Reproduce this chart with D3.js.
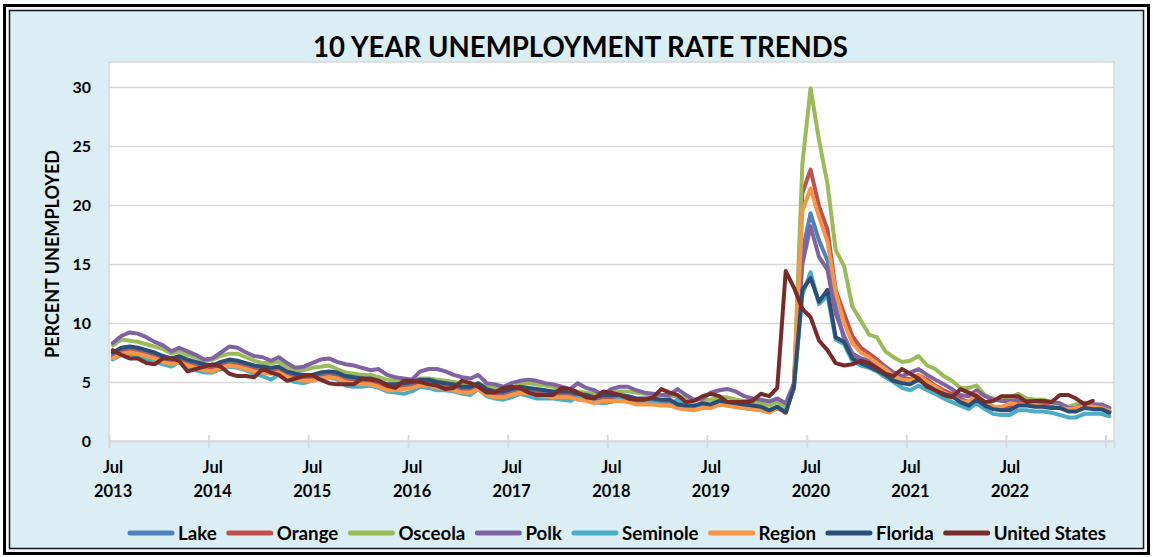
<!DOCTYPE html>
<html><head><meta charset="utf-8">
<script src="https://cdn.jsdelivr.net/npm/d3@7"></script>
<style>
body{margin:0;background:#fff}
svg{display:block}
text{font-family:Lato,"Open Sans",sans-serif;font-weight:700;fill:#000}
</style>
</head><body>
<svg id="c" width="1153" height="557"></svg>
<script>
// ---------- DATA ----------
const title = "10 YEAR UNEMPLOYMENT RATE TRENDS";
const yTitle = "PERCENT UNEMPLOYED";
const firstMonth = [2013, 6];          // July 2013 (month index 6)
const monthCount = 121;                // Jul 2013 .. Jul 2023
const yTicks = [0, 5, 10, 15, 20, 25, 30];
const tickYears = [2013,2014,2015,2016,2017,2018,2019,2020,2021,2022,2023];
const labelYears = [2013,2014,2015,2016,2017,2018,2019,2020,2021,2022];
const tickMonthLabel = "Jul";
const seriesNames = ["Lake","Orange","Osceola","Polk","Seminole","Region","Florida","United States"];
const seriesColors = ["#4F81BD","#C0504D","#9BBB59","#8064A2","#4BACC6","#F79646","#2C4D75","#772C2A"];

const lake = [7.3,7.7,7.8,7.7,7.5,7.3,7.0,6.8,7.0,6.7,6.5,6.3,
 6.2,6.5,6.7,6.6,6.4,6.2,6.1,6.0,6.1,5.7,5.5,5.4,
 5.4,5.6,5.7,5.6,5.3,5.2,5.1,5.1,4.9,4.6,4.6,4.7,
 4.8,5.0,5.0,4.8,4.7,4.6,4.4,4.4,4.7,4.2,4.0,4.0,
 4.2,4.4,4.3,4.2,4.1,4.0,4.0,4.0,3.8,3.7,3.5,3.7,
 3.7,3.7,3.6,3.4,3.4,3.4,3.3,3.3,3.0,2.9,2.9,3.1,
 3.0,3.3,3.2,3.1,3.0,2.9,2.8,2.6,2.9,2.5,4.6,16.0,
 19.3,17.0,15.3,11.4,8.6,7.4,7.0,6.7,6.3,5.9,5.4,5.1,
 5.0,5.4,4.9,4.5,4.2,3.9,3.5,3.2,3.7,3.2,2.9,2.7,
 2.7,3.1,3.1,3.0,3.0,2.9,2.9,2.6,2.6,2.9,2.8,2.8,
 2.5];
const orange = [7.1,7.5,7.6,7.5,7.3,7.1,6.8,6.6,6.8,6.5,6.3,6.1,
 6.0,6.3,6.5,6.4,6.2,6.0,5.9,5.8,5.9,5.5,5.3,5.2,
 5.2,5.4,5.5,5.4,5.1,5.0,4.9,4.9,4.7,4.4,4.4,4.5,
 4.6,4.8,4.8,4.6,4.5,4.4,4.2,4.2,4.5,4.0,3.8,3.8,
 4.0,4.2,4.1,4.0,3.9,3.8,3.8,3.8,3.6,3.5,3.3,3.5,
 3.5,3.5,3.4,3.2,3.2,3.2,3.1,3.1,2.8,2.7,2.7,2.9,
 2.8,3.1,3.0,2.9,2.8,2.7,2.7,2.5,2.8,2.4,4.6,21.0,
 23.0,19.9,17.9,12.8,10.8,8.9,7.9,7.4,6.9,6.3,5.8,5.4,
 5.2,5.6,5.2,4.7,4.3,4.0,3.6,3.3,3.8,3.3,2.9,2.8,
 2.8,3.2,3.2,3.0,3.0,2.9,2.8,2.6,2.6,2.9,2.8,2.8,
 2.5];
const osceola = [8.1,8.6,8.5,8.4,8.2,8.0,7.8,7.4,7.6,7.3,7.1,6.8,
 6.9,7.2,7.4,7.4,7.1,6.8,6.6,6.6,6.7,6.3,6.0,6.0,
 6.2,6.3,6.4,6.1,5.8,5.7,5.6,5.6,5.4,5.2,5.1,5.0,
 5.1,5.3,5.3,5.2,5.1,5.0,4.9,4.9,4.8,4.7,4.5,4.3,
 4.5,4.8,4.9,4.8,4.7,4.6,4.4,4.3,4.2,4.1,4.0,4.0,
 4.1,4.2,4.2,4.1,4.0,3.9,3.9,3.8,3.8,3.7,3.5,3.5,
 3.5,3.7,3.7,3.5,3.4,3.3,3.2,3.0,3.3,2.9,4.8,23.5,
 29.9,25.5,21.8,16.2,14.8,11.4,10.2,9.0,8.8,7.6,7.1,6.7,
 6.8,7.2,6.4,6.1,5.5,5.1,4.5,4.5,4.7,3.9,3.6,3.4,
 3.7,4.0,3.6,3.5,3.5,3.3,3.0,2.9,3.1,3.2,3.1,3.0,
 2.8];
const polk = [8.3,8.9,9.2,9.1,8.8,8.4,8.1,7.6,7.9,7.6,7.3,6.9,
 7.0,7.5,8.0,7.9,7.5,7.2,7.1,6.8,7.1,6.6,6.2,6.3,
 6.6,6.9,7.0,6.7,6.5,6.4,6.2,6.0,6.1,5.6,5.4,5.3,
 5.2,5.9,6.1,6.1,5.9,5.6,5.4,5.3,5.6,4.9,4.8,4.6,
 4.9,5.1,5.2,5.1,4.9,4.8,4.6,4.4,4.9,4.5,4.3,3.9,
 4.4,4.6,4.6,4.3,4.1,4.0,3.9,3.9,4.4,3.9,3.5,3.6,
 4.1,4.3,4.4,4.2,3.8,3.6,3.5,3.35,3.6,3.2,4.9,15.0,
 18.2,15.6,14.5,10.8,8.9,7.4,7.0,6.8,6.6,6.3,5.8,5.5,
 5.8,6.1,5.6,5.2,4.8,4.4,3.9,3.8,4.3,3.8,3.5,3.4,
 3.4,3.5,3.4,3.4,3.3,3.3,3.2,2.8,2.8,3.2,3.1,3.1,
 2.8];
const seminole = [6.9,7.3,7.4,7.1,6.9,6.7,6.5,6.3,6.7,6.3,6.0,5.8,
 5.8,6.1,6.3,6.2,6.0,5.7,5.5,5.2,5.6,5.2,5.0,4.9,
 5.1,5.3,5.4,5.2,4.7,4.6,4.6,4.7,4.5,4.2,4.1,4.0,
 4.2,4.6,4.5,4.3,4.3,4.2,4.0,3.9,4.4,3.8,3.6,3.5,
 3.7,4.0,3.8,3.6,3.6,3.6,3.5,3.4,3.7,3.5,3.3,3.2,
 3.3,3.6,3.5,3.5,3.3,3.2,3.1,3.0,3.5,2.9,2.8,2.9,
 2.9,3.2,3.1,2.9,2.8,2.7,2.7,2.5,2.9,2.5,4.4,12.4,
 14.3,11.6,12.3,8.6,8.2,6.8,6.4,6.2,5.9,5.4,5.0,4.5,
 4.3,4.7,4.3,4.0,3.6,3.3,3.0,2.7,3.2,2.7,2.3,2.2,
 2.2,2.6,2.6,2.5,2.5,2.4,2.2,2.0,2.0,2.3,2.3,2.3,
 2.1];
const region = [7.0,7.4,7.5,7.4,7.2,7.0,6.7,6.5,6.7,6.4,6.2,6.0,
 5.9,6.2,6.4,6.3,6.1,5.9,5.8,5.7,5.8,5.4,5.2,5.1,
 5.1,5.3,5.4,5.3,5.0,4.9,4.8,4.8,4.6,4.3,4.3,4.4,
 4.5,4.7,4.7,4.5,4.4,4.3,4.1,4.1,4.4,3.9,3.7,3.7,
 3.9,4.1,4.0,3.9,3.8,3.7,3.7,3.7,3.5,3.4,3.2,3.4,
 3.4,3.4,3.3,3.1,3.1,3.1,3.0,3.0,2.8,2.7,2.6,2.8,
 2.8,3.1,3.0,2.9,2.8,2.7,2.6,2.4,2.8,2.4,4.6,19.5,
 21.4,19.0,16.9,12.6,10.0,8.3,7.5,7.1,6.6,6.1,5.5,5.2,
 5.1,5.6,5.0,4.6,4.1,3.8,3.4,3.3,4.0,3.2,2.9,2.9,
 3.2,3.1,3.1,3.0,2.9,2.8,2.8,2.7,2.8,3.0,2.9,2.8,
 2.55];
const florida = [7.5,7.9,8.0,7.9,7.7,7.5,7.2,7.0,7.2,6.9,6.7,6.5,
 6.4,6.7,6.9,6.8,6.6,6.4,6.3,6.2,6.3,5.9,5.7,5.6,
 5.6,5.8,5.9,5.8,5.5,5.4,5.3,5.3,5.1,4.8,4.8,4.9,
 5.0,5.2,5.2,5.0,4.9,4.8,4.6,4.6,4.9,4.4,4.2,4.2,
 4.4,4.6,4.5,4.4,4.3,4.2,4.2,4.2,4.0,3.9,3.7,3.9,
 3.9,3.9,3.8,3.6,3.6,3.6,3.5,3.5,3.1,3.0,3.0,3.2,
 3.1,3.4,3.3,3.2,3.1,3.0,2.9,2.6,2.9,2.4,4.6,12.8,
 13.8,11.8,12.8,8.8,8.4,7.0,6.6,6.3,6.0,5.6,5.1,4.9,
 4.8,5.2,4.7,4.3,4.0,3.8,3.3,3.0,3.5,3.0,2.7,2.6,
 2.6,3.0,3.0,2.9,2.9,2.8,2.8,2.5,2.5,2.8,2.7,2.7,
 2.4];
const unitedStates = [7.7,7.3,7.0,7.0,6.6,6.5,
 7.0,7.0,6.8,5.9,6.1,6.3,6.5,6.3,5.7,5.5,5.5,5.4,
 6.1,5.8,5.6,5.1,5.3,5.5,5.6,5.2,4.9,4.8,4.8,4.8,
 5.3,5.2,5.1,4.7,4.5,5.1,5.1,5.0,4.8,4.7,4.4,4.5,
 5.1,4.9,4.6,4.1,4.1,4.5,4.6,4.5,4.1,3.9,3.9,3.9,
 4.5,4.4,4.1,3.7,3.6,4.2,4.1,3.9,3.6,3.5,3.5,3.7,
 4.4,4.1,3.9,3.3,3.4,3.8,4.0,3.8,3.3,3.3,3.3,3.4,
 4.0,3.8,4.5,14.4,13.0,11.2,10.5,8.5,7.7,6.6,6.4,6.5,
 6.8,6.6,6.2,5.7,5.5,6.1,5.7,5.3,4.6,4.3,3.9,3.7,
 4.4,4.1,3.8,3.3,3.4,3.8,3.8,3.8,3.3,3.4,3.4,3.3,
 3.9,3.9,3.6,3.1,3.4];

const seriesValues = [lake, orange, osceola, polk, seminole, region, florida, unitedStates];

// ---------- LAYOUT ----------
const svg = d3.select("#c");
const plot = {left:109, right:1114, top:62, bottom:441, y30:87};

svg.append("rect").attr("x",4.5).attr("y",5.5).attr("width",1144).attr("height",548)
  .attr("fill","#f4f4f4").attr("stroke","#000").attr("stroke-width",3);
svg.append("rect").attr("x",9.5).attr("y",10.5).attr("width",1134).attr("height",538)
  .attr("fill","#DAEEF3").attr("stroke","#1a1a1a").attr("stroke-width",1.5);

const months = d3.range(monthCount).map(i => new Date(firstMonth[0], firstMonth[1] + i, 1));
const midMonth = d => d3.timeDay.offset(d, 14);

const x = d3.scaleTime()
  .domain([new Date(firstMonth[0], firstMonth[1], 1), d3.timeMonth.offset(months[monthCount-1], 1)])
  .range([plot.left, plot.right]);
const y = d3.scaleLinear().domain([0, 30]).range([plot.bottom, plot.y30]);

// plot area
svg.append("rect").attr("x",plot.left).attr("y",plot.top)
  .attr("width",plot.right-plot.left).attr("height",plot.bottom-plot.top)
  .attr("fill","#fff").attr("stroke","#D9D9D9").attr("stroke-width",1.5);

// gridlines
const grid = svg.append("g").attr("transform",`translate(${plot.left},0)`)
  .call(d3.axisLeft(y).tickValues(yTicks.filter(v=>v>0)).tickSize(-(plot.right-plot.left)).tickFormat(""));
grid.select(".domain").remove();
grid.selectAll("line").attr("stroke","#D9D9D9").attr("stroke-width",1.5);

// y labels
const yAx = svg.append("g").attr("transform",`translate(${plot.left},0)`)
  .call(d3.axisLeft(y).tickValues(yTicks).tickSize(0).tickPadding(18));
yAx.select(".domain").remove();
yAx.selectAll("text").attr("font-size",16).attr("font-family","Lato").attr("font-weight",700)
  .attr("fill","#000").attr("dy","0.36em");

// x axis
const tickDates = tickYears.map(yr => new Date(yr, 6, 1));
const xAx = svg.append("g").attr("transform",`translate(0,${plot.bottom})`)
  .call(d3.axisBottom(x).tickValues(tickDates).tickSize(7).tickFormat(""));
xAx.select(".domain").attr("stroke","#D9D9D9").attr("stroke-width",2);
xAx.selectAll(".tick line").attr("stroke","#D9D9D9").attr("stroke-width",2).attr("y1",-6);

const xl = svg.append("g");
labelYears.forEach(yr => {
  const cx = x(new Date(yr, 6, 16));
  xl.append("text").attr("x",cx).attr("y",473).attr("text-anchor","middle").attr("font-size",16.5).text(tickMonthLabel);
  xl.append("text").attr("x",cx).attr("y",496.5).attr("text-anchor","middle").attr("font-size",16.5).text(yr);
});

// lines
const line = d3.line().x((v,i) => x(midMonth(months[i]))).y(v => y(v));
seriesValues.forEach((vals, k) => {
  svg.append("path").datum(vals).attr("d", line)
    .attr("fill","none").attr("stroke",seriesColors[k]).attr("stroke-width",4)
    .attr("stroke-linejoin","round").attr("stroke-linecap","round");
});

// title (fit to width)
const t = svg.append("text").attr("x",580.5).attr("y",56.5).attr("text-anchor","middle")
  .attr("font-size",24).text(title);
const tw = t.node().getComputedTextLength();
t.attr("font-size", 24*535/tw);

// y title
const yt = svg.append("text").attr("transform","translate(58.5,254) rotate(-90)")
  .attr("text-anchor","middle").attr("font-size",16).text(yTitle);
const ytw = yt.node().getComputedTextLength();
yt.attr("font-size", 16*208/ytw);

// legend
const lg = svg.append("g");
const lineLen = 46, gapA = 4, gapB = 10, legStart = 128, legEnd = 1106;
const tmp = seriesNames.map(n => {
  const tt = lg.append("text").attr("font-size",16).text(n);
  const w = tt.node().getComputedTextLength(); tt.remove(); return w;
});
const fixed = seriesNames.length*(lineLen+gapA) + (seriesNames.length-1)*gapB;
const scaleF = (legEnd - legStart - fixed) / d3.sum(tmp);
let cx = legStart;
seriesNames.forEach((n,k) => {
  lg.append("line").attr("x1",cx+2).attr("x2",cx+lineLen-2).attr("y1",533).attr("y2",533)
    .attr("stroke",seriesColors[k]).attr("stroke-width",5).attr("stroke-linecap","round");
  cx += lineLen + gapA;
  lg.append("text").attr("x",cx).attr("y",539.5).attr("font-size",16*scaleF).text(n);
  cx += tmp[k]*scaleF + gapB;
});
</script>
</body></html>
